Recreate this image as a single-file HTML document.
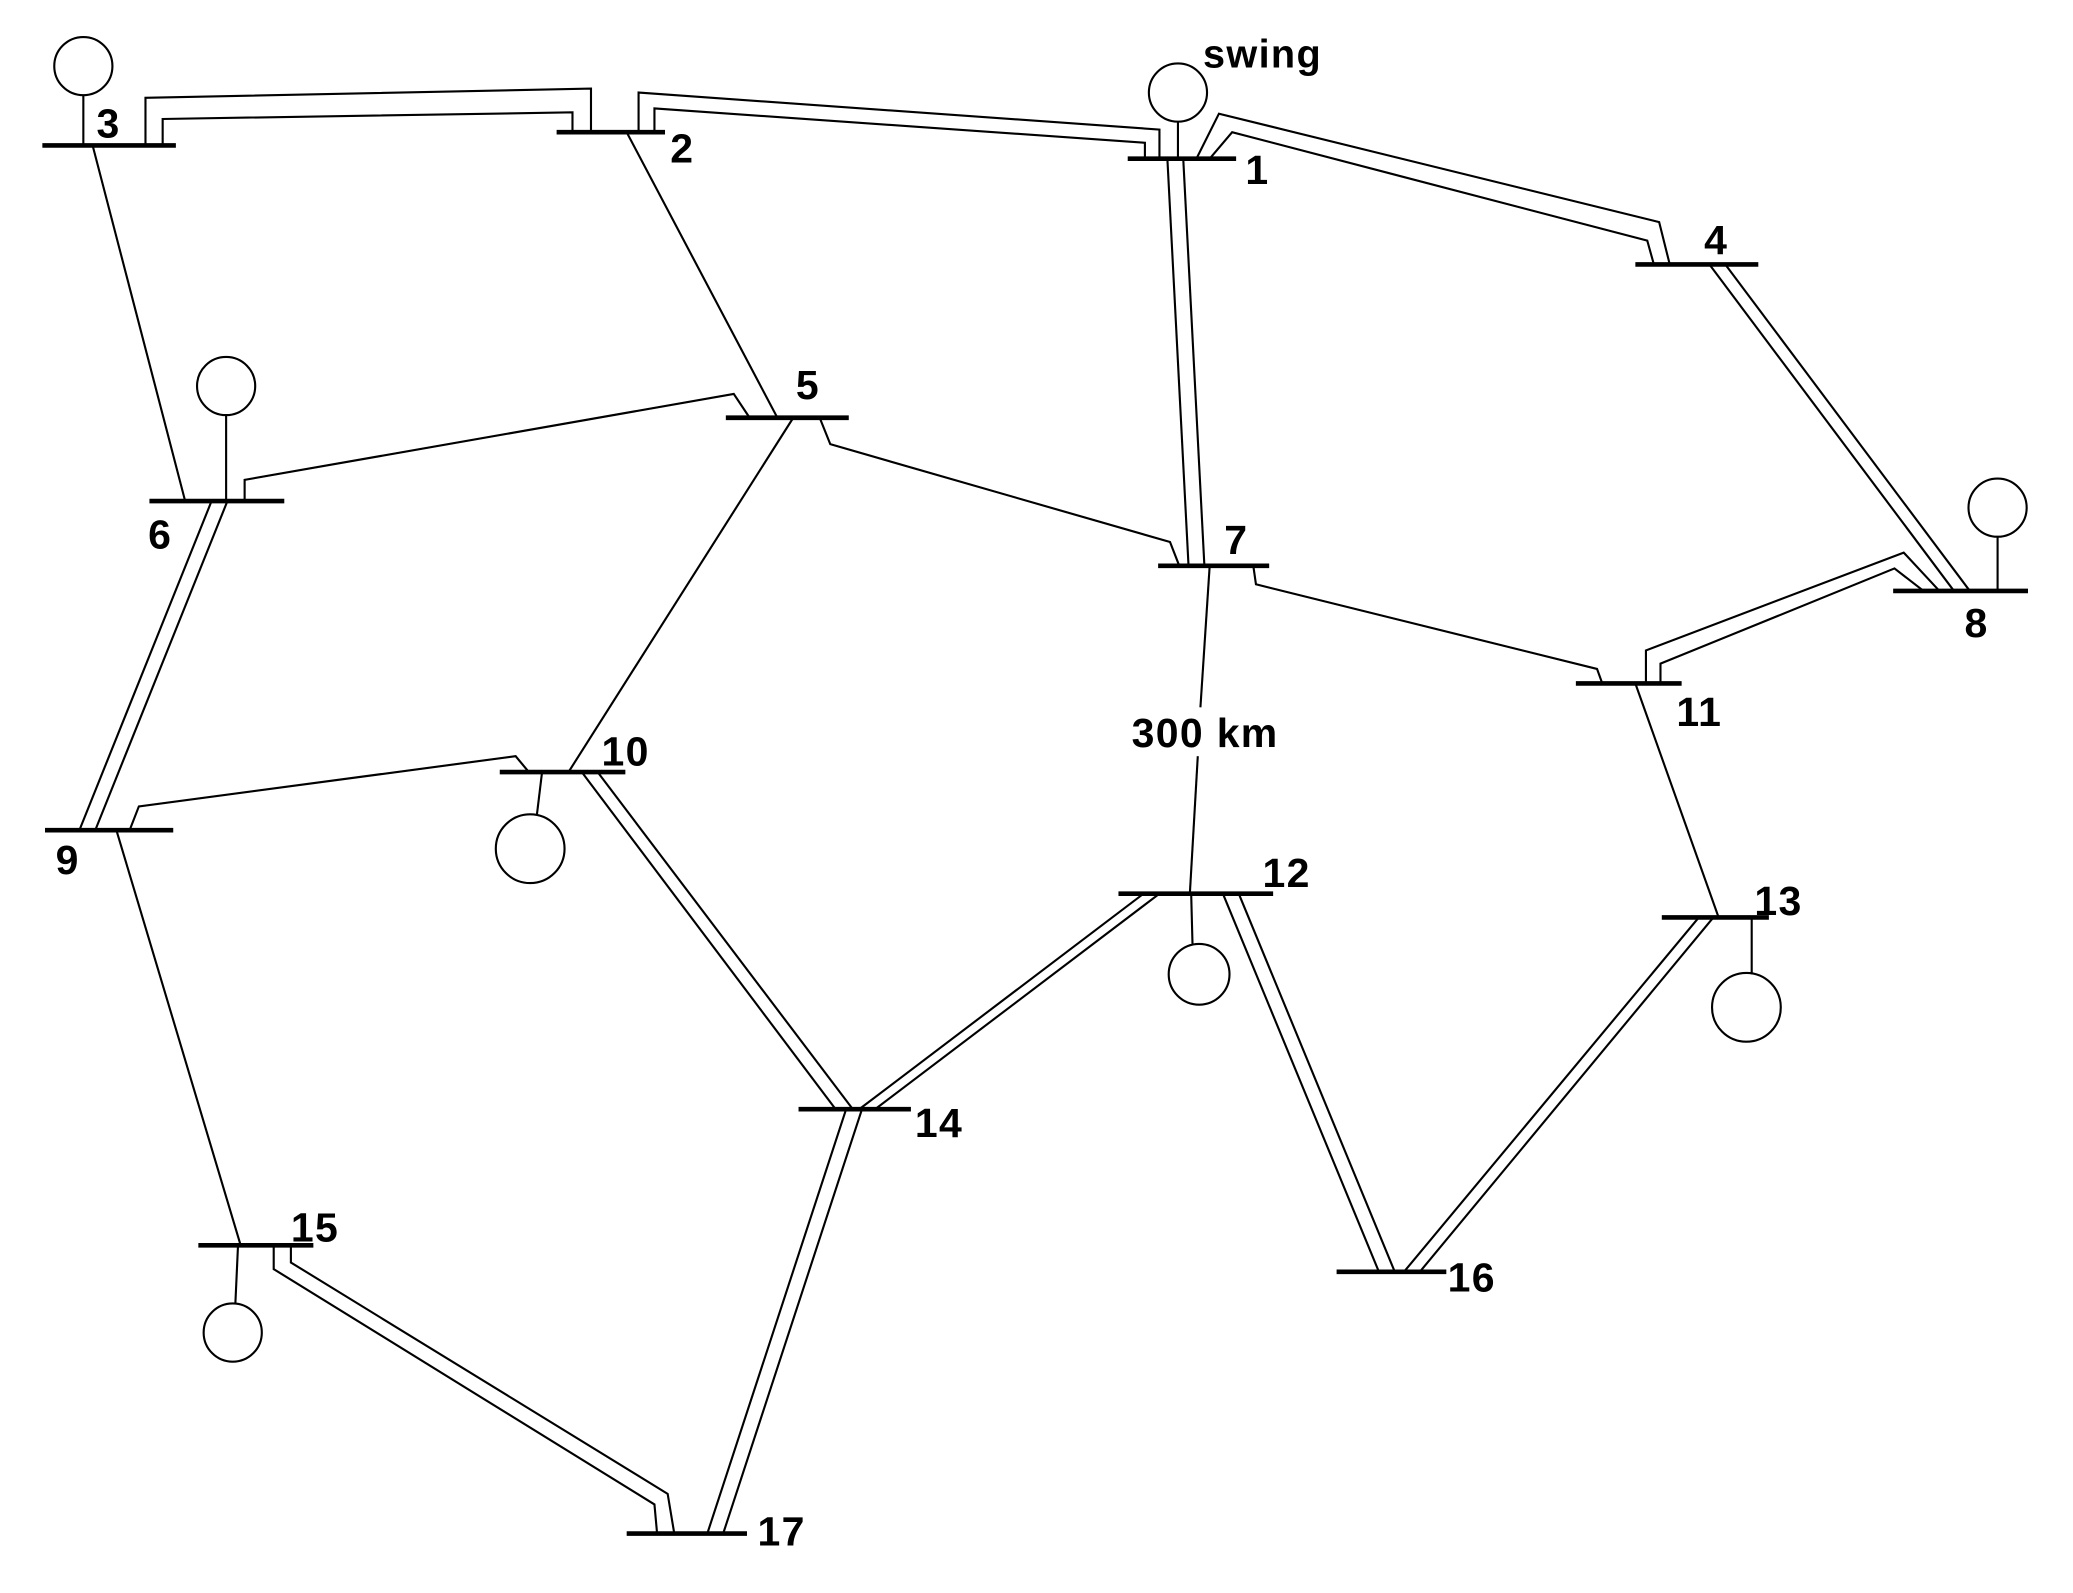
<!DOCTYPE html>
<html><head><meta charset="utf-8"><style>
html,body{margin:0;padding:0;background:#fff;}
svg{display:block}
text{font-family:"Liberation Sans",sans-serif;font-weight:bold;fill:#000;letter-spacing:1px}
</style></head><body>
<svg width="2073" height="1593" viewBox="0 0 1568 1205" xmlns="http://www.w3.org/2000/svg">
<g fill="none" stroke="#000" stroke-width="1.6" stroke-linejoin="miter">
<polyline points="70,110 140,379"/>
<polyline points="474,100 588,316"/>
<polyline points="185,379 185,363 555,298 567,316"/>
<polyline points="620,316 628,336 885,410 892,428"/>
<polyline points="600,316 430,584"/>
<polyline points="948,428 950,442 1208,506 1212,517"/>
<polyline points="915,428 908,535"/>
<polyline points="906,572 900,676"/>
<polyline points="98,628 105,610 390,572 400,584"/>
<polyline points="88,628 182,942"/>
<polyline points="1237,517 1300,694"/>
<polyline points="110,110 110,74 447,67 447,100"/>
<polyline points="123,110 123,90 433,85 433,100"/>
<polyline points="483,100 483,70 877,98 877,120"/>
<polyline points="495,100 495,82 866,108 866,120"/>
<polyline points="905,120 922,86 1255,168 1263,200"/>
<polyline points="915,120 932,100 1246,182 1251,200"/>
<polyline points="883,120 899,428"/>
<polyline points="895,120 911,428"/>
<polyline points="1293,200 1478,447"/>
<polyline points="1305,200 1490,447"/>
<polyline points="1467,447 1440,418 1245,492 1245,517"/>
<polyline points="1455,447 1433,430 1256,502 1256,517"/>
<polyline points="160,379 60,628"/>
<polyline points="172,379 72,628"/>
<polyline points="440,584 632,839"/>
<polyline points="452,584 645,839"/>
<polyline points="650,839 865,676"/>
<polyline points="662,839 877,676"/>
<polyline points="925,676 1043,962"/>
<polyline points="937,676 1055,962"/>
<polyline points="1285,694 1062,962"/>
<polyline points="1296,694 1074,962"/>
<polyline points="640,839 535,1160"/>
<polyline points="652,839 547,1160"/>
<polyline points="207,942 207,960 495,1138 497,1160"/>
<polyline points="220,942 220,955 505,1130 510,1160"/>
<line x1="63" y1="72" x2="63" y2="110"/><circle cx="63" cy="50" r="22"/>
<line x1="891" y1="92" x2="891" y2="120"/><circle cx="891" cy="70" r="22"/>
<line x1="171" y1="314" x2="171" y2="379"/><circle cx="171" cy="292" r="22"/>
<line x1="1511" y1="406" x2="1511" y2="447"/><circle cx="1511" cy="384" r="22"/>
<line x1="410" y1="584" x2="406" y2="617"/><circle cx="401" cy="642" r="26"/>
<line x1="901" y1="676" x2="902" y2="714"/><circle cx="907" cy="737" r="23"/>
<line x1="1325" y1="694" x2="1325" y2="737"/><circle cx="1321" cy="762" r="26"/>
<line x1="180" y1="942" x2="178" y2="986"/><circle cx="176" cy="1008" r="22"/>
</g>
<g stroke="#000" stroke-width="3.5">
<line x1="32" y1="110" x2="133" y2="110"/>
<line x1="421" y1="100" x2="503" y2="100"/>
<line x1="853" y1="120" x2="935" y2="120"/>
<line x1="1237" y1="200" x2="1330" y2="200"/>
<line x1="549" y1="316" x2="642" y2="316"/>
<line x1="113" y1="379" x2="215" y2="379"/>
<line x1="876" y1="428" x2="960" y2="428"/>
<line x1="1432" y1="447" x2="1534" y2="447"/>
<line x1="1192" y1="517" x2="1272" y2="517"/>
<line x1="378" y1="584" x2="473" y2="584"/>
<line x1="34" y1="628" x2="131" y2="628"/>
<line x1="846" y1="676" x2="963" y2="676"/>
<line x1="1257" y1="694" x2="1338" y2="694"/>
<line x1="604" y1="839" x2="689" y2="839"/>
<line x1="150" y1="942" x2="237" y2="942"/>
<line x1="1011" y1="962" x2="1094" y2="962"/>
<line x1="474" y1="1160" x2="565" y2="1160"/>
</g>
<g font-size="31">
<text x="73" y="104">3</text>
<text x="507" y="123">2</text>
<text x="942" y="139">1</text>
<text x="1289" y="192">4</text>
<text x="602" y="302">5</text>
<text x="112" y="415">6</text>
<text x="926" y="419">7</text>
<text x="1486" y="482">8</text>
<text x="1268" y="549">11</text>
<text x="455" y="579">10</text>
<text x="42" y="661">9</text>
<text x="955" y="671">12</text>
<text x="1327" y="692">13</text>
<text x="692" y="860">14</text>
<text x="220" y="939">15</text>
<text x="1095" y="977">16</text>
<text x="573" y="1169">17</text>
<text x="856" y="565">300 km</text>
<text x="910" y="51" font-size="30">swing</text>
</g>
</svg>
</body></html>
